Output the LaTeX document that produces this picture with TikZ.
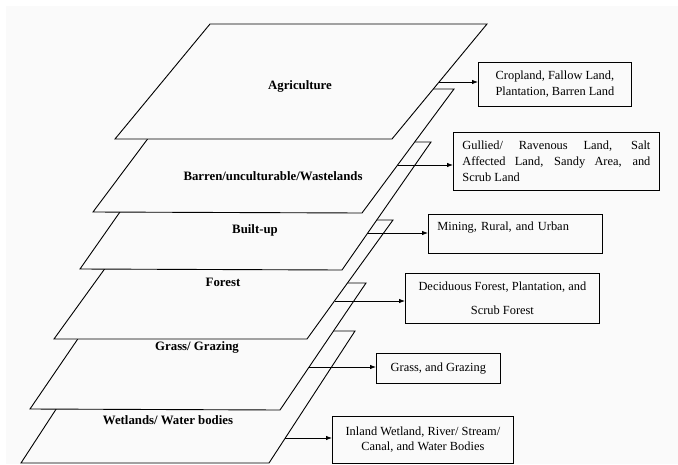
\documentclass[tikz,border=0pt]{standalone}
\usepackage{fontspec}
\setmainfont{Liberation Serif}
\usepackage{tikz}
\usetikzlibrary{
  arrows.meta,
  calc,
  positioning
}
\definecolor{paper}{HTML}{FAFAFA}
\tikzset{
  layer/.style={
    draw=black,
    line width=0.9pt,
    fill=paper,
    line join=miter
  },
  layerlabel/.style={font=\fontsize{12.8}{15}\selectfont\bfseries},
  classbox/.style={
    draw=black,
    line width=0.8pt,
    fill=paper,
    anchor=north west,
    align=center,
    inner sep=0pt,
    font=\fontsize{12.4}{16}\selectfont
  },
  arrow/.style={-{Latex[length=6pt,width=4.5pt]}, line width=0.8pt}
}

\begin{document}
\begin{tikzpicture}[x=1pt, y=-1pt]
  \useasboundingbox (0,0) rectangle (678,464);
  \fill[paper] (6,6) rectangle (678,464);

  % layers, bottom one first
  \filldraw[layer] (21,463) -- (269,463) -- (355,331) -- (107,331) -- cycle;
  \filldraw[layer] (30,409) -- (280,410) -- (366,283) -- (116,283) -- cycle;
  \filldraw[layer] (54,339) -- (307,339) -- (393,220) -- (140,220) -- cycle;
  \filldraw[layer] (80,269) -- (342,270) -- (431,142) -- (169,142) -- cycle;
  \filldraw[layer] (93,212) -- (362,213) -- (454,89) -- (185,89) -- cycle;
  \filldraw[layer] (115,139) -- (392,139) -- (487,24) -- (210,24) -- cycle;

  \node[layerlabel] (agri) at (300,86) {Agriculture};
  \node[layerlabel] (waste) at (273,176) {Barren/unculturable/Wastelands};
  \node[layerlabel] (built) at (255,230) {Built-up};
  \node[layerlabel] (forest) at (223,282) {Forest};
  \node[layerlabel] (grass) at (197,347) {Grass/ Grazing};
  \node[layerlabel] (wet) at (168,420) {Wetlands/ Water bodies};

  % where the arrows leave the layers
  \coordinate (agri-out) at (439,82);
  \coordinate (waste-out) at (398,165);
  \coordinate (built-out) at (368,233);
  \coordinate (forest-out) at (335,301);
  \coordinate (grass-out) at (309,367);
  \coordinate (wet-out) at (285,438);

  \node[classbox, minimum width=153pt, minimum height=44pt] (cropbox)
    at (478,62) {Cropland, Fallow Land,\\Plantation, Barren Land};
  \node[classbox, minimum width=206pt, minimum height=58pt, align=justify,
    text width=188pt, inner xsep=9pt, font=\fontsize{12.4}{15.7}\selectfont]
    (wastebox) at (453,132)
    {Gullied/ Ravenous Land, Salt\linebreak Affected Land, Sandy Area, and\linebreak Scrub Land};
  \node[classbox, minimum width=174pt, minimum height=39pt, align=left,
    text width=156pt, inner xsep=9pt, font=\fontsize{12.4}{15}\selectfont]
    (builtbox) at (428,214) {Mining, Rural, and Urban\\\mbox{}};
  \node[classbox, minimum width=194pt, minimum height=50pt] (forestbox)
    at (405,273) {Deciduous Forest, Plantation, and\\[8.7pt]Scrub Forest};
  \node[classbox, minimum width=124pt, minimum height=30pt] (grassbox)
    at (376,353) {Grass, and Grazing};
  \node[classbox, minimum width=181pt, minimum height=46.5pt,
    font=\fontsize{12.4}{15.7}\selectfont] (wetbox)
    at (332,416) {Inland Wetland, River/ Stream/\\Canal, and Water Bodies};

  \draw[arrow] (agri-out) -- (agri-out -| cropbox.west);
  \draw[arrow] (waste-out) -- (waste-out -| wastebox.west);
  \draw[arrow] (built-out) -- (built-out -| builtbox.west);
  \draw[arrow] (forest-out) -- (forest-out -| forestbox.west);
  \draw[arrow] (grass-out) -- (grass-out -| grassbox.west);
  \draw[arrow] (wet-out) -- (wet-out -| wetbox.west);
\end{tikzpicture}
\end{document}
